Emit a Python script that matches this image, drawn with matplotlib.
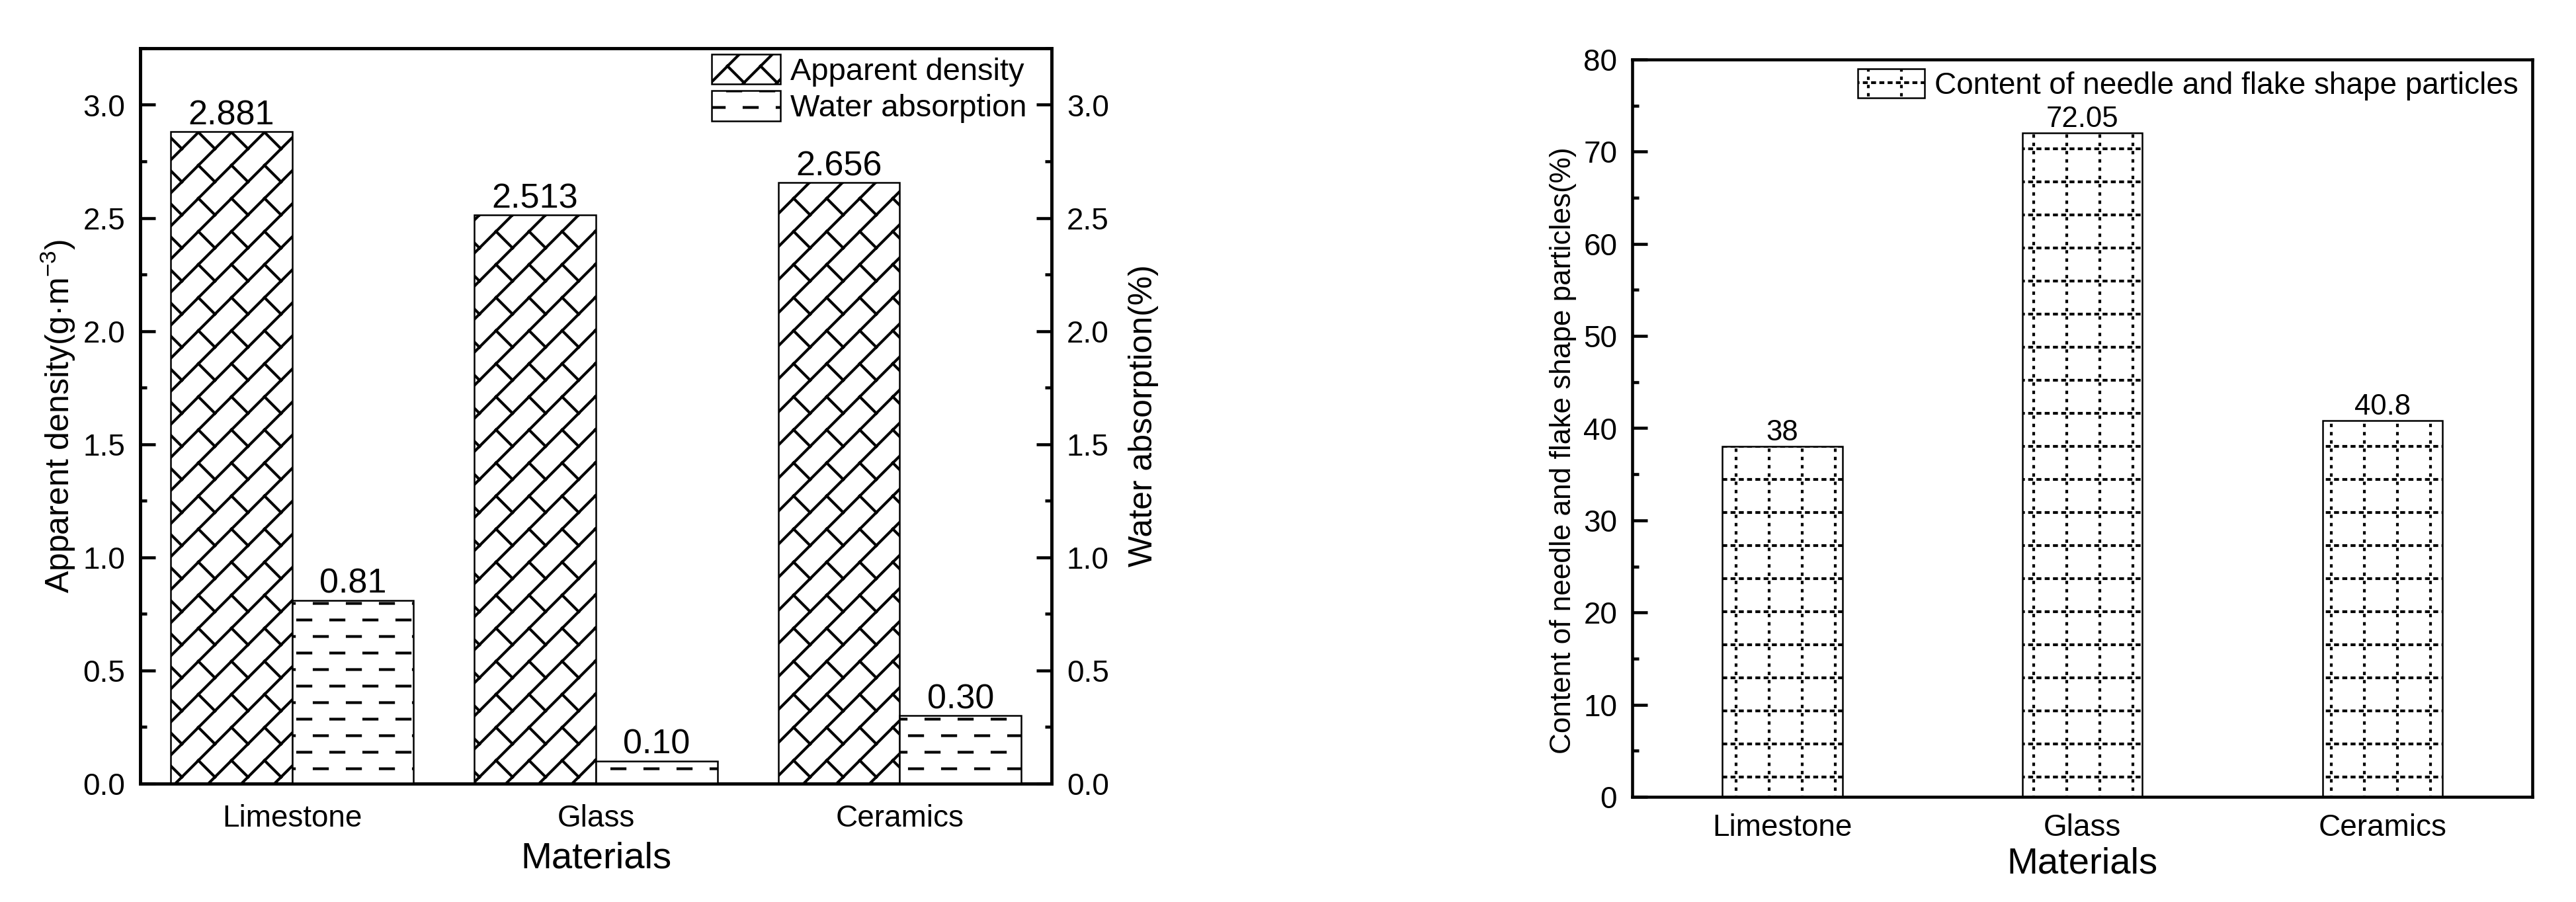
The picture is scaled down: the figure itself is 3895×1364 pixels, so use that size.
import numpy as np
import matplotlib
matplotlib.use("Agg")
import matplotlib.pyplot as plt
import matplotlib.hatch as mhatch
from matplotlib.path import Path
from matplotlib.ticker import MultipleLocator, FormatStrFormatter

materials = ["Limestone", "Glass", "Ceramics"]
apparent_density = [2.881, 2.513, 2.656]
water_absorption = [0.81, 0.10, 0.30]
needle_flake = [38, 72.05, 40.8]

plt.rcParams["font.family"] = ["Liberation Sans", "DejaVu Sans"]
plt.rcParams["mathtext.fontset"] = "custom"
plt.rcParams["mathtext.rm"] = "Liberation Sans"
plt.rcParams["mathtext.default"] = "regular"
plt.rcParams["hatch.linewidth"] = 1.0
plt.rcParams["axes.linewidth"] = 1.1


# Origin-like fill patterns, drawn inside a 1x1 inch hatch tile
def weave_segments(n=6):
    segs = []
    for k in range(-n, n + 1):
        segs.append([(0.0, k / n), (1.0, 1.0 + k / n)])
    # short back strokes, staggered from band to band
    for j in range(0, 2 * n + 1):
        for m in range(-2, 2 * n + 2):
            if m % 2:
                continue
            x0, x1 = m / (2 * n), (m + 1) / (2 * n)
            segs.append([(x0, j / n - x0), (x1, j / n - x1)])
    return segs


def dash_segments(rows=12, cols=6, on=0.067):
    segs = []
    for r in range(rows):
        y = (r + 0.5) / rows
        shift = (r % 2) * 0.5 / cols
        for c in range(-1, cols + 1):
            x0 = c / cols + shift
            segs.append([(x0, y), (x0 + on, y)])
    return segs


def dotgrid_segments(cells=6, dots=4, on_h=0.011, on_v=0.003):
    segs = []
    pitch = 1 / (cells * dots)
    for i in range(cells):
        p = (i + 0.5) / cells
        for d in range(cells * dots):
            q = (d + 0.5) * pitch
            segs.append([(q, p), (q + on_h, p)])
            segs.append([(p, q), (p, q + on_v)])
    return segs


class SegmentHatch(mhatch.HatchPatternBase):
    char = None
    make = None

    def __init__(self, hatch, density):
        if self.char in hatch:
            self.segs = np.array(type(self).make(), float)
        else:
            self.segs = np.empty((0, 2, 2))
        self.num_vertices = 2 * len(self.segs)

    def set_vertices_and_codes(self, vertices, codes):
        vertices[0::2] = self.segs[:, 0]
        vertices[1::2] = self.segs[:, 1]
        codes[0::2] = Path.MOVETO
        codes[1::2] = Path.LINETO


class WeaveHatch(SegmentHatch):
    char = "/"
    make = staticmethod(weave_segments)


class DashHatch(SegmentHatch):
    char = "-"
    make = staticmethod(dash_segments)


class DotGridHatch(SegmentHatch):
    char = "+"
    make = staticmethod(dotgrid_segments)


mhatch._hatch_types = [WeaveHatch, DashHatch, DotGridHatch]

x = np.arange(1, len(materials) + 1)
w = 0.4
bar_kw = dict(facecolor="white", edgecolor="black", linewidth=0.6)


def style_y(a):
    a.tick_params(axis="y", which="both", direction="in", width=1.1,
                  labelsize=11, pad=5.5)
    a.tick_params(axis="y", which="major", length=5.5)
    a.tick_params(axis="y", which="minor", length=2.5)


fig = plt.figure(figsize=(3895.1 / 300, 1364.1 / 300), dpi=300)

# left: apparent density + water absorption
ax1 = fig.add_axes([212 / 3895, 179 / 1364, 1378 / 3895, 1112 / 1364])
ax1r = ax1.twinx()
b1 = ax1.bar(x - w / 2, apparent_density, w, hatch="/",
             label="Apparent density", **bar_kw)
b2 = ax1r.bar(x + w / 2, water_absorption, w, hatch="-",
              label="Water absorption", **bar_kw)
ax1.bar_label(b1, fmt="%.3f", fontsize=12.5)
ax1r.bar_label(b2, fmt="%.2f", fontsize=12.5)

for a in (ax1, ax1r):
    a.set_ylim(0, 3.25)
    a.yaxis.set_major_locator(MultipleLocator(0.5))
    a.yaxis.set_minor_locator(MultipleLocator(0.25))
    a.yaxis.set_major_formatter(FormatStrFormatter("%.1f"))
    style_y(a)
ax1.set_xlim(0.5, 3.5)
ax1.set_xticks(x, materials)
ax1.tick_params(axis="x", length=0, pad=7.5, labelsize=11)
ax1.set_xlabel("Materials", fontsize=13.5, labelpad=3)
ax1.set_ylabel("Apparent density(g·m$^{-3}$)", fontsize=12, labelpad=2)
ax1r.set_ylabel("Water absorption(%)", fontsize=12, labelpad=7)
ax1r.legend(handles=[b1, b2], loc="upper left", bbox_to_anchor=(0.627, 0.992),
            frameon=False, borderpad=0, borderaxespad=0, fontsize=11.3,
            handlelength=2.2, handleheight=1.1, handletextpad=0.32,
            labelspacing=0.15)

# right: needle and flake particles
ax2 = fig.add_axes([2468 / 3895, 159 / 1364, 1361 / 3895, 1115 / 1364])
b3 = ax2.bar(x, needle_flake, w, hatch="+",
             label="Content of needle and flake shape particles", **bar_kw)
ax2.bar_label(b3, labels=[f"{v:g}" for v in needle_flake], fontsize=10.5)
ax2.set_xlim(0.5, 3.5)
ax2.set_ylim(0, 80)
ax2.yaxis.set_major_locator(MultipleLocator(10))
ax2.yaxis.set_minor_locator(MultipleLocator(5))
style_y(ax2)
ax2.set_xticks(x, materials)
ax2.tick_params(axis="x", length=0, pad=6, labelsize=11)
ax2.set_xlabel("Materials", fontsize=13.5, labelpad=1.5)
ax2.set_ylabel("Content of needle and flake shape particles(%)", fontsize=10.6)
ax2.yaxis.set_label_coords(-0.062, 0.47)
ax2.legend(loc="upper left", bbox_to_anchor=(0.2506, 0.9874), frameon=False,
           borderpad=0, borderaxespad=0, fontsize=11, handlelength=2.2,
           handleheight=1.1, handletextpad=0.32)

fig.savefig("out.png", dpi=300)
